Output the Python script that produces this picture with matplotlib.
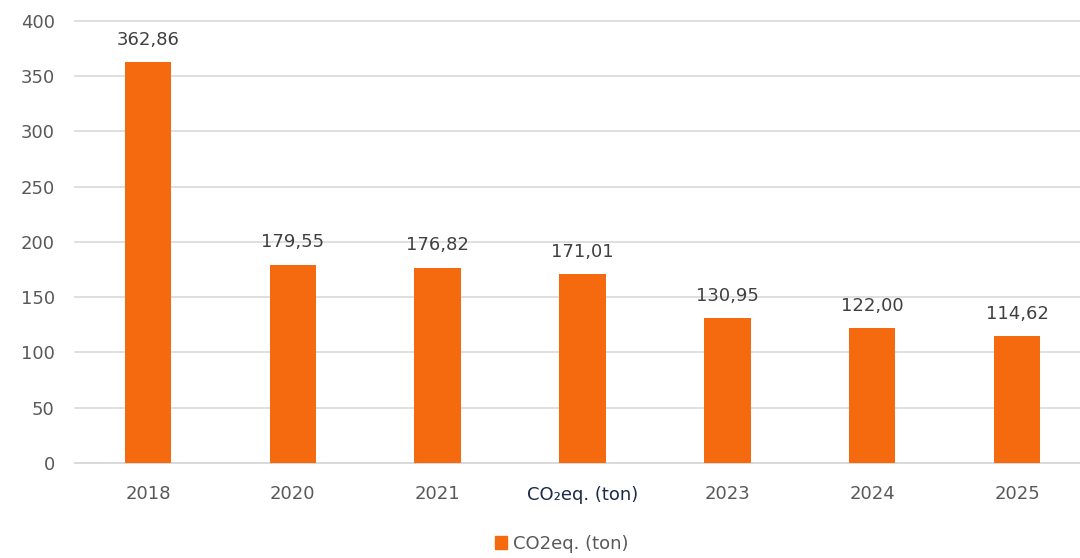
import numpy as np
import matplotlib.pyplot as plt
from matplotlib.patches import Patch

years = ["2018", "2020", "2021", "2022", "2023", "2024", "2025"]
values = [362.86, 179.55, 176.82, 171.01, 130.95, 122.00, 114.62]
value_labels = ["362,86", "179,55", "176,82", "171,01", "130,95", "122,00", "114,62"]
yticks = [0, 50, 100, 150, 200, 250, 300, 350, 400]

ORANGE = "#F5690F"
GREY = "#595959"
NAVY = "#1B2A4A"
FS = 13


def main():
    fig = plt.figure(figsize=(10.8, 5.58), dpi=100)
    ax = fig.add_axes([0.0699, 0.1703, 0.939, 0.7921])

    x = np.arange(len(years))
    ax.bar(x, values, width=0.32, color=ORANGE, zorder=3)

    for xi, v, lab in zip(x, values, value_labels):
        ax.text(xi, v + 12, lab, ha="center", va="bottom",
                fontsize=FS, color="#404040")

    ax.set_ylim(0, 400)
    ax.set_xlim(-0.5, len(years) - 0.5)
    ax.set_yticks(yticks)
    ax.grid(axis="y", color="#D9D9D9", linewidth=1.2, zorder=0)
    for line in ax.get_ygridlines():
        line.set_clip_on(False)

    # le label 2022 est remplace par le titre de l'axe
    tick_labels = list(years)
    tick_labels[3] = ""
    ax.set_xticks(x)
    ax.set_xticklabels(tick_labels)
    ax.text(3, -21, "CO₂eq. (ton)", ha="center", va="top",
            fontsize=FS, color=NAVY)

    ax.tick_params(axis="both", length=0, labelsize=FS, labelcolor=GREY)
    ax.tick_params(axis="y", pad=15)
    ax.tick_params(axis="x", pad=16)

    for side in ["top", "right", "left"]:
        ax.spines[side].set_visible(False)
    ax.spines["bottom"].set_color("#D9D9D9")
    ax.spines["bottom"].set_linewidth(1.2)

    handle = Patch(color=ORANGE, label="CO2eq. (ton)")
    fig.legend(handles=[handle], loc="center", bbox_to_anchor=(0.52, 0.025),
               frameon=False, fontsize=FS, labelcolor=GREY,
               handlelength=0.7, handleheight=0.7, handletextpad=0.3)

    fig.savefig("out.png", dpi=100)


if __name__ == "__main__":
    main()
